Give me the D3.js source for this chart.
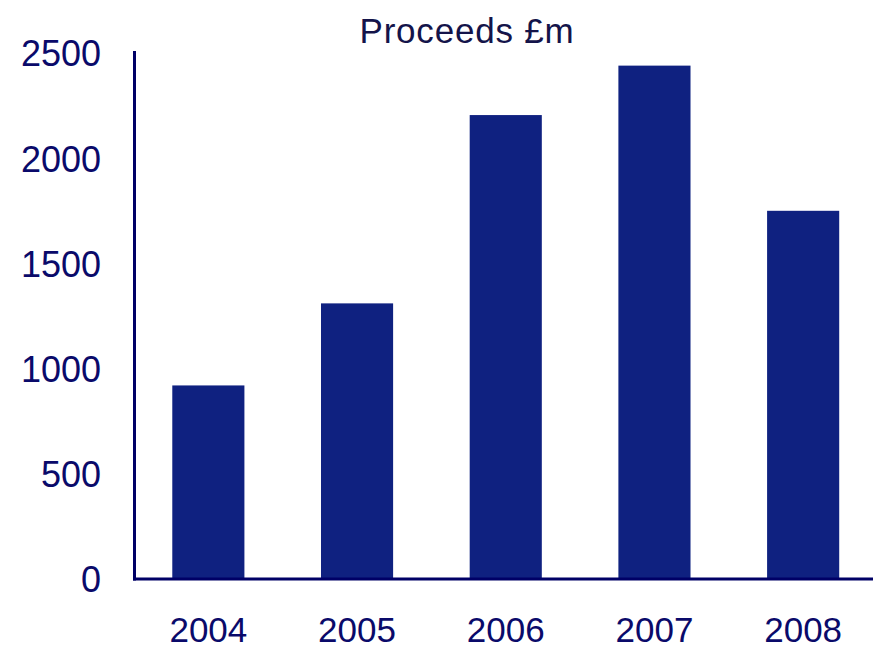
<!DOCTYPE html>
<html><head><meta charset="utf-8">
<script src="https://cdn.jsdelivr.net/npm/d3@7"></script>
<style>body{margin:0;background:#fff}svg{display:block}</style>
</head><body>
<svg id="c" width="873" height="649"></svg>
<script>
const years = ["2004","2005","2006","2007","2008"];
const proceeds = [920, 1310, 2205, 2440, 1750];
const yTicks = [0, 500, 1000, 1500, 2000, 2500];
const title = "Proceeds £m";

const svg = d3.select("#c");
const font = "'Liberation Sans', Arial, sans-serif";
const x = d3.scaleBand().domain(years).range([134, 877.5]).paddingInner(0.515).paddingOuter(0.2575);
const y = d3.scaleLinear().domain([0, 2500]).range([579, 53]);

svg.selectAll("rect.bar").data(proceeds).join("rect")
  .attr("class","bar")
  .attr("x",(d,i)=>x(years[i]))
  .attr("width",x.bandwidth())
  .attr("y",d=>y(d))
  .attr("height",d=>y(0)-y(d))
  .attr("fill","#0f2180");

// axes lines
svg.append("line").attr("x1",134.5).attr("x2",134.5).attr("y1",51).attr("y2",580.5)
  .attr("stroke","#000066").attr("stroke-width",3);
svg.append("line").attr("x1",133).attr("x2",873).attr("y1",579).attr("y2",579)
  .attr("stroke","#000066").attr("stroke-width",3);

const yAxis = d3.axisLeft(y).tickValues(yTicks).tickSize(0).tickPadding(0).tickFormat(d3.format("d"));
const gy = svg.append("g").attr("transform","translate(101,0)").call(yAxis);
gy.select(".domain").remove();
gy.selectAll("text").attr("font-family",font).attr("font-size",36).attr("fill","#0a0a6a").attr("dy","0.36em");

const xAxis = d3.axisBottom(x).tickSize(0).tickPadding(0);
const gx = svg.append("g").attr("transform","translate(0,642)").call(xAxis);
gx.select(".domain").remove();
gx.selectAll("text").attr("font-family",font).attr("font-size",35).attr("fill","#0a0a6a").attr("dy",0);

svg.append("text").attr("x",467).attr("y",43).attr("text-anchor","middle")
  .attr("font-family",font).attr("font-size",35).attr("letter-spacing",0.8)
  .attr("fill","#14144a").text(title);
</script>
</body></html>
